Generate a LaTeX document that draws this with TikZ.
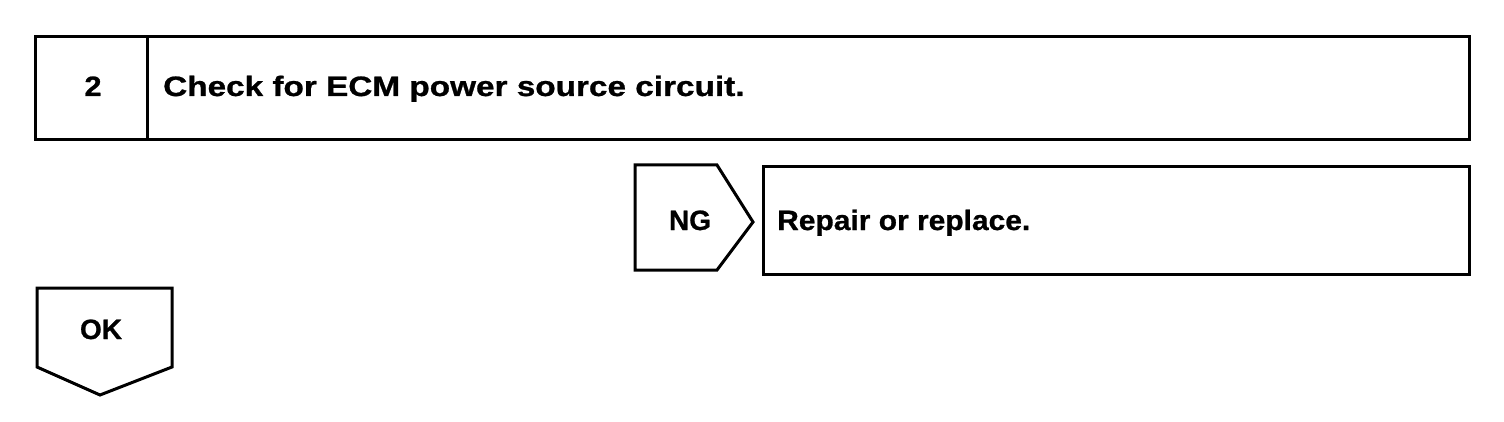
\documentclass[tikz,border=0pt]{standalone}
\usepackage{fontspec}
\setmainfont{Liberation Sans}
\newfontfamily\heavy{Liberation Sans Bold}[FakeBold=0.8]
\begin{document}
\begin{tikzpicture}[x=1pt,y=-1pt,
  frame/.style={draw=black,line width=3pt,line join=miter},
  label/.style={inner sep=0pt,font=\fontsize{28}{32}\heavy}]
\useasboundingbox[fill=white] (0,0) rectangle (1504,422);
% step header
\draw[frame] (35,37) rectangle (1469,140);
\draw[frame] (147,37) -- (147,140);
\node[label,anchor=base] (num) at (93,96) {\scalebox{1.1}[1]{2}};
\node[label,anchor=base west] (title) at (163,96) {\scalebox{1.19}[1]{Check for ECM power source circuit.}};
% NG branch
\draw[frame] (635,165) -- (717,165) -- (753,222) -- (717,270) -- (635,270) -- cycle;
\node[label,anchor=base] (ng) at (690,230) {NG};
\draw[frame] (763,167) rectangle (1469,274);
\node[label,anchor=base west] (repair) at (777,230) {\scalebox{1.07}[1]{Repair or replace.}};
% OK branch
\draw[frame] (37,288) -- (172,288) -- (172,367) -- (100,395) -- (37,367) -- cycle;
\node[label,anchor=base] (ok) at (101,339) {OK};
\end{tikzpicture}
\end{document}
